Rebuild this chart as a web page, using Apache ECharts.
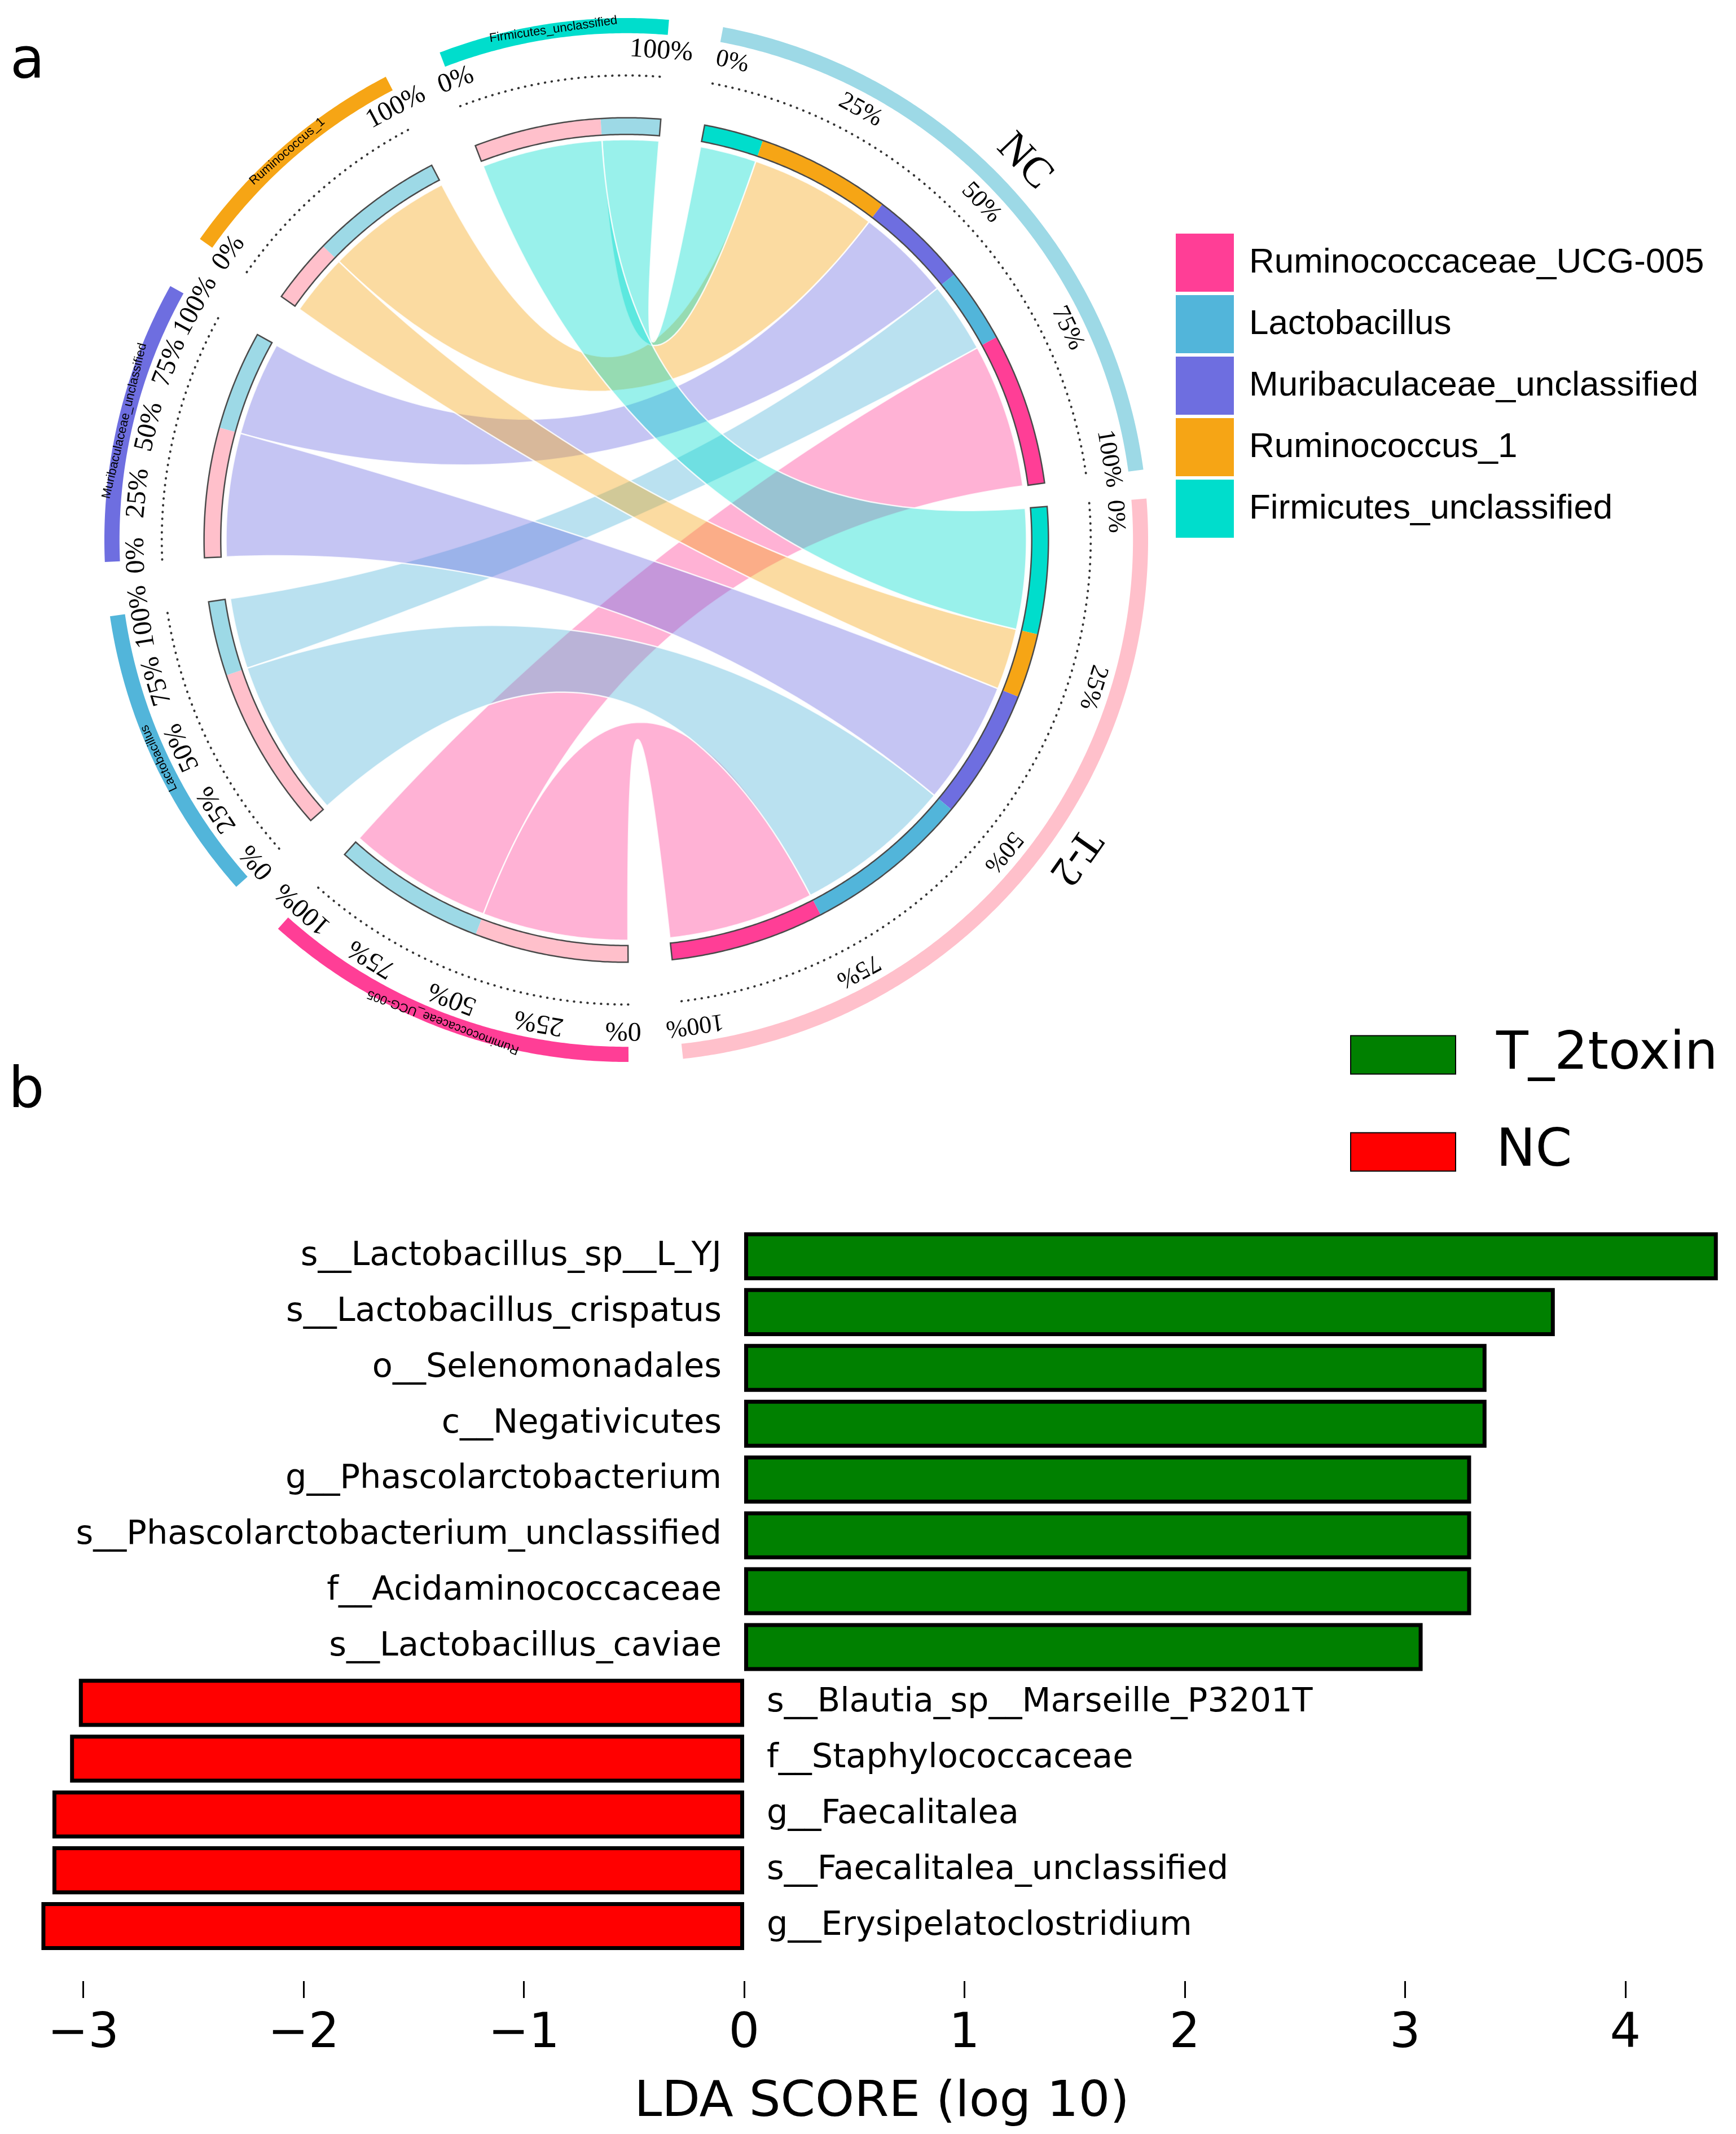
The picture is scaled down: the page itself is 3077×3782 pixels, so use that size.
<!DOCTYPE html>
<html><head><meta charset="utf-8">
<script src="https://cdn.jsdelivr.net/npm/echarts@6/dist/echarts.min.js"></script>
<style>html,body{margin:0;padding:0;background:#fff}#c{width:3077px;height:3782px}</style>
</head><body><div id="c"></div>
<script>
// ---------- panel a : chord diagram data ----------
const genera = ['Ruminococcaceae_UCG-005', 'Lactobacillus', 'Muribaculaceae_unclassified', 'Ruminococcus_1', 'Firmicutes_unclassified'];
const generaColors = ['#FF3E96', '#52B5DA', '#6E6EE0', '#F6A515', '#00DDCC'];
const samples = ['NC', 'T-2'];
const sampleColors = ['#9DD9E6', '#FFC0CB'];
// abundance of each genus (same order as genera) in each sample
const abundNC = [21.0, 10.3, 13.7, 18.5, 8.2];
const abundT2 = [21.2, 23.0, 17.9, 8.9, 17.5];
const percentTickLabels = {
  'NC': [0, 25, 50, 75, 100],
  'T-2': [0, 25, 50, 75, 100],
  'Ruminococcaceae_UCG-005': [0, 25, 50, 75, 100],
  'Lactobacillus': [0, 25, 50, 75, 100],
  'Muribaculaceae_unclassified': [0, 25, 50, 75, 100],
  'Ruminococcus_1': [0, 100],
  'Firmicutes_unclassified': [0, 100]
};

// ---------- panel b : LEfSe data ----------
const taxa = ['s__Lactobacillus_sp__L_YJ', 's__Lactobacillus_crispatus', 'o__Selenomonadales', 'c__Negativicutes',
  'g__Phascolarctobacterium', 's__Phascolarctobacterium_unclassified', 'f__Acidaminococcaceae', 's__Lactobacillus_caviae',
  's__Blautia_sp__Marseille_P3201T', 'f__Staphylococcaceae', 'g__Faecalitalea', 's__Faecalitalea_unclassified', 'g__Erysipelatoclostridium'];
const ldaT2toxin = [4.42, 3.68, 3.37, 3.37, 3.30, 3.30, 3.30, 3.08, null, null, null, null, null];
const ldaNC = [null, null, null, null, null, null, null, null, -3.02, -3.06, -3.14, -3.14, -3.19];
const ldaTicks = [-3, -2, -1, 0, 1, 2, 3, 4];

// ---------- layout constants ----------
const GAPS = [3.2, 6, 6.5, 6, 6.1, 6.5, 6];       // degrees after each sector
const R_OUT0 = 0.971, R_OUT1 = 1.0, R_IN0 = 0.777, R_IN1 = 0.809, R_LINK = 0.767;
const R_DOT = 0.89, R_NAME = 0.988, R_SAMPLE = 1.052, H_RATIO = 0.5;
const sampleLabelFrac = [0.5, 0.45];
const TICK_FONT = [44, 48];      // sample sectors, genus sectors
const TICK_R = [0.938, 0.939];
const END_SHIFT = [1.8, 0.6];    // inward shift (deg) of the 0% / 100% labels

const sum = a => a.reduce((s, v) => s + v, 0);
const sampleAbund = [abundNC, abundT2];
const sectorNames = samples.concat(genera);
const sectorColors = sampleColors.concat(generaColors);
const sectorWidth = sectorNames.map((n, i) => i < 2 ? sum(sampleAbund[i]) : abundNC[i - 2] + abundT2[i - 2]);
const K = (360 - sum(GAPS)) / sum(sectorWidth);
const secStart = [], secEnd = [];
{ let u = 0; for (let i = 0; i < sectorNames.length; i++) { secStart[i] = u; u += sectorWidth[i] * K; secEnd[i] = u; u += GAPS[i]; } }
const linkSample = [[], []], linkGenus = [[], []];
const segs = sectorNames.map(() => []);
for (let s = 0; s < 2; s++) {
  let c = secStart[s];
  for (const g of [4, 3, 2, 1, 0]) {
    const w = sampleAbund[s][g] * K;
    linkSample[s][g] = [c, c + w];
    segs[s].push([c, c + w, generaColors[g]]);
    c += w;
  }
}
for (let g = 0; g < 5; g++) {
  let c = secStart[g + 2];
  for (const s of [1, 0]) {
    const w = sampleAbund[s][g] * K;
    linkGenus[s][g] = [c, c + w];
    segs[g + 2].push([c, c + w, sampleColors[s]]);
    c += w;
  }
}

function arcPts(api, r, u1, u2) {
  const n = Math.max(2, Math.ceil(Math.abs(u2 - u1) / 0.35));
  const pts = [];
  for (let i = 0; i <= n; i++) pts.push(api.coord([r, u1 + (u2 - u1) * i / n]));
  return pts;
}
function annulus(api, r0, r1, u1, u2) {
  return arcPts(api, r1, u1, u2).concat(arcPts(api, r0, u2, u1));
}
function bezierPts(api, uP, uQ) {
  const P = api.coord([R_LINK, uP]), Q = api.coord([R_LINK, uQ]);
  let d = Math.abs(uP - uQ) % 360, mean = (uP + uQ) / 2;
  if (d > 180) { d = 360 - d; mean += 180; }
  const rA = R_LINK * Math.cos(d / 2 * Math.PI / 180) * (1 - H_RATIO);
  const A = api.coord([rA, mean % 360]);
  const M = [(P[0] + Q[0]) / 2, (P[1] + Q[1]) / 2];
  const C = [2 * A[0] - M[0], 2 * A[1] - M[1]];
  const pts = [], n = 60;
  for (let i = 1; i < n; i++) {
    const t = i / n, a = (1 - t) * (1 - t), b = 2 * (1 - t) * t, c = t * t;
    pts.push([a * P[0] + b * C[0] + c * Q[0], a * P[1] + b * C[1] + c * Q[1]]);
  }
  return pts;
}
function hexA(hex, a) {
  const v = parseInt(hex.slice(1), 16);
  return 'rgba(' + (v >> 16) + ',' + ((v >> 8) & 255) + ',' + (v & 255) + ',' + a + ')';
}
function tangentText(api, r, u, text, style) {
  const c = api.coord([0, 0]);
  const p = api.coord([r, u]);
  const phi = Math.atan2(c[1] - p[1], p[0] - c[0]);
  return { type: 'text', x: p[0], y: p[1], rotation: phi - Math.PI / 2,
    style: Object.assign({ text: text, fill: '#000', align: 'center', verticalAlign: 'middle' }, style) };
}

function renderSector(params, api) {
  const i = params.dataIndex;
  const u1 = secStart[i], u2 = secEnd[i];
  const name = sectorNames[i];
  const kind = i < 2 ? 0 : 1;
  const ch = [];
  ch.push({ type: 'polygon', shape: { points: annulus(api, R_OUT0, R_OUT1, u1, u2) }, style: { fill: sectorColors[i] } });
  segs[i].forEach(sg => ch.push({ type: 'polygon', shape: { points: annulus(api, R_IN0, R_IN1, sg[0], sg[1]) }, style: { fill: sg[2] } }));
  ch.push({ type: 'polygon', shape: { points: annulus(api, R_IN0, R_IN1, u1, u2) }, style: { fill: 'none', stroke: '#4a4a4a', lineWidth: 2.5 } });
  ch.push({ type: 'polyline', shape: { points: arcPts(api, R_DOT, u1, u2) }, style: { fill: 'none', stroke: '#333', lineWidth: 4, lineDash: [0.5, 11.5], lineCap: 'round' } });
  percentTickLabels[name].forEach(p => {
    let uu = u1 + (u2 - u1) * p / 100;
    if (p === 0) uu += END_SHIFT[kind];
    if (p === 100) uu -= END_SHIFT[kind];
    ch.push(tangentText(api, TICK_R[kind], uu, p + '%', { fontSize: TICK_FONT[kind], fontFamily: 'Liberation Serif' }));
  });
  if (i < 2) {
    ch.push(tangentText(api, R_SAMPLE, u1 + (u2 - u1) * sampleLabelFrac[i], name, { fontSize: 76, fontFamily: 'Liberation Serif' }));
  } else {
    ch.push(tangentText(api, R_NAME, (u1 + u2) / 2, name, { fontSize: 22, fontFamily: 'Liberation Sans' }));
  }
  return { type: 'group', children: ch };
}

function makeLinkRenderer(g) {
  return function (params, api) {
    const s = params.dataIndex;
    const a = linkSample[s][g], b = linkGenus[s][g];
    const pts = arcPts(api, R_LINK, a[0], a[1])
      .concat(bezierPts(api, a[1], b[0]))
      .concat(arcPts(api, R_LINK, b[0], b[1]))
      .concat(bezierPts(api, b[1], a[0]));
    return { type: 'polygon', shape: { points: pts },
      style: { fill: hexA(generaColors[g], 0.4), stroke: 'rgba(255,255,255,0.85)', lineWidth: 2.5 } };
  };
}

const series = [];
genera.forEach((gname, g) => {
  series.push({ type: 'custom', name: gname, coordinateSystem: 'polar', polarIndex: 0,
    itemStyle: { color: generaColors[g] }, data: [[0.5, 0, 0], [0.5, 0, 1]],
    renderItem: makeLinkRenderer(g), z: 1, silent: true });
});
series.push({ type: 'custom', name: 'sectors', coordinateSystem: 'polar', polarIndex: 0,
  data: sectorNames.map((n, i) => [0.9, 0, i]), renderItem: renderSector, z: 2, silent: true });

const barLabel = { show: true, formatter: '{b}', fontSize: 59, fontFamily: 'DejaVu Sans', color: '#000', distance: 40 };
series.push({ type: 'bar', name: 'T_2toxin', xAxisIndex: 0, yAxisIndex: 0, data: ldaT2toxin,
  barGap: '-100%', barCategoryGap: '14%',
  itemStyle: { color: '#008000', borderColor: '#000', borderWidth: 7 },
  label: Object.assign({ position: 'left' }, barLabel) });
series.push({ type: 'bar', name: 'NC', xAxisIndex: 0, yAxisIndex: 0, data: ldaNC,
  barGap: '-100%', barCategoryGap: '14%',
  itemStyle: { color: '#FF0000', borderColor: '#000', borderWidth: 7 },
  label: Object.assign({ position: 'right' }, barLabel) });

const option = {
  animation: false,
  backgroundColor: '#fff',
  polar: { center: [1110, 957], radius: 925 },
  angleAxis: { type: 'value', min: 0, max: 360, startAngle: 79.3, clockwise: true, show: false,
    axisLine: { show: false }, axisTick: { show: false }, axisLabel: { show: false }, splitLine: { show: false } },
  radiusAxis: { type: 'value', min: 0, max: 1, show: false,
    axisLine: { show: false }, axisTick: { show: false }, axisLabel: { show: false }, splitLine: { show: false } },
  grid: { left: 50, right: 1, top: 2177, bottom: 319, containLabel: false },
  xAxis: {
    type: 'value', min: -3.25, max: 4.5, offset: 48,
    axisLine: { show: false }, splitLine: { show: false },
    axisTick: { show: true, customValues: ldaTicks, length: 30, lineStyle: { color: '#000', width: 3 } },
    axisLabel: { customValues: ldaTicks, margin: 52, fontSize: 86, fontFamily: 'DejaVu Sans', color: '#000',
      formatter: v => (v < 0 ? '\u2212' : '') + Math.abs(v) },
    name: 'LDA SCORE (log 10)', nameLocation: 'middle', nameGap: 172,
    nameTextStyle: { fontSize: 88, fontFamily: 'DejaVu Sans', color: '#000' }
  },
  yAxis: { type: 'category', data: taxa, inverse: true, show: false },
  legend: [
    { data: genera, orient: 'vertical', left: 2079, top: 409, itemWidth: 103, itemHeight: 103, itemGap: 6,
      icon: 'rect', selectedMode: false,
      textStyle: { fontSize: 62, fontFamily: 'Liberation Sans', color: '#000', padding: [0, 0, 0, 22] } },
    { data: ['T_2toxin'], orient: 'vertical', left: 2388, top: 1818, itemWidth: 186, itemHeight: 68, icon: 'rect', selectedMode: false,
      textStyle: { fontSize: 93, fontFamily: 'DejaVu Sans', color: '#000', padding: [0, 0, 0, 67] } },
    { data: ['NC'], orient: 'vertical', left: 2388, top: 1990, itemWidth: 186, itemHeight: 68, icon: 'rect', selectedMode: false,
      textStyle: { fontSize: 93, fontFamily: 'DejaVu Sans', color: '#000', padding: [0, 0, 0, 67] } }
  ],
  graphic: [
    { type: 'text', x: 18, y: 112, style: { text: 'a', fontSize: 100, fontFamily: 'DejaVu Sans', fill: '#000', verticalAlign: 'middle' } },
    { type: 'text', x: 15, y: 1936, style: { text: 'b', fontSize: 100, fontFamily: 'DejaVu Sans', fill: '#000', verticalAlign: 'middle' } }
  ],
  series: series
};
const chart = echarts.init(document.getElementById('c'), null, { renderer: 'canvas', width: 3077, height: 3782 });
chart.setOption(option);
</script></body></html>
